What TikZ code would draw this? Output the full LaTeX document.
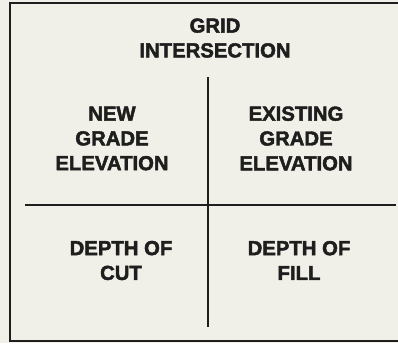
\documentclass[tikz,border=0pt]{standalone}
\usepackage{fontspec}
\setmainfont{Liberation Sans}
\definecolor{bgcol}{HTML}{F1F0E8}
\definecolor{ink}{HTML}{1E1E1E}
\newcommand{\heavytext}[1]{\special{pdf:literal direct 2 Tr 0.45 w}#1\special{pdf:literal direct 0 Tr}}
\begin{document}
\begin{tikzpicture}[x=1pt,y=-1pt,
  lbl/.style={inner sep=0pt,align=center,text=ink,font=\bfseries\fontsize{20.3}{24.8}\selectfont},
  rule/.style={draw=ink,line width=2pt}]
\useasboundingbox[fill=bgcol] (0,0) rectangle (398,343);
\draw[rule] (399,3) -- (10,3) -- (10,341) -- (399,341);
\coordinate (vt) at (208,77);
\coordinate (vb) at (208,327);
\coordinate (hl) at (25,205);
\coordinate (hr) at (396,205);
\draw[rule] (vt) -- (vb);
\draw[rule] (hl) -- (hr);
\node[lbl] (top) at (215,38) {\heavytext{GRID}\\\heavytext{INTERSECTION}};
\node[lbl] (nge) at (112,138.5) {\heavytext{NEW}\\\heavytext{GRADE}\\\heavytext{ELEVATION}};
\node[lbl] (ege) at (296,138.5) {\heavytext{EXISTING}\\\heavytext{GRADE}\\\heavytext{ELEVATION}};
\node[lbl] (cut) at (121,260.5) {\heavytext{DEPTH OF}\\\heavytext{CUT}};
\node[lbl] (fill) at (299,260.5) {\heavytext{DEPTH OF}\\\heavytext{FILL}};
\end{tikzpicture}
\end{document}
